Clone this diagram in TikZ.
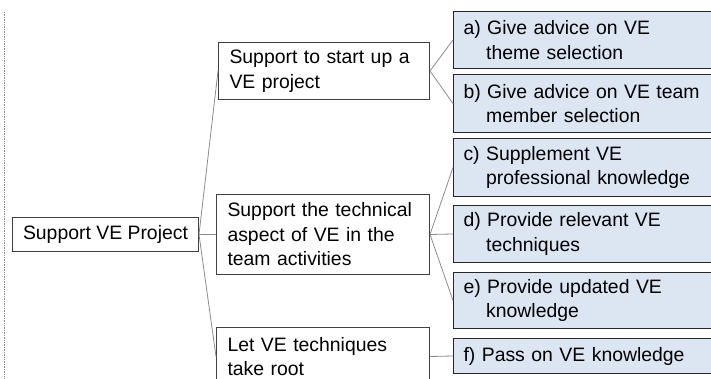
\documentclass[tikz,border=0pt]{standalone}
\usepackage{fontspec}
\setmainfont{Liberation Sans}
\definecolor{boxblue}{HTML}{DCE6F2}
\definecolor{edgegray}{HTML}{404040}
\definecolor{linkgray}{HTML}{8C8C8C}
\newcommand{\hangpad}{\hspace*{1.17em}}
\begin{document}
\begin{tikzpicture}[x=1pt,y=-1pt,
  every node/.style={font=\fontsize{19.4pt}{24.5pt}\selectfont},
  topic/.style={draw=edgegray, line width=1pt, fill=white, anchor=north west,
    align=left, inner xsep=11pt, inner ysep=2pt},
  task/.style={draw=black!85, line width=1pt, fill=boxblue, anchor=north west,
    align=left, inner xsep=10pt, inner ysep=2pt, text width=260pt},
  link/.style={draw=linkgray, line width=0.8pt}]
\useasboundingbox (0,0) rectangle (711,379);
\clip (0,0) rectangle (711,379);

% margin guide on the left
\draw[linkgray, densely dotted, line width=0.7pt] (4,12) -- (4,379);

% root and second level
\node[topic, inner xsep=0pt, minimum width=186pt, minimum height=34pt] (root) at (12,217) {Support VE Project};
\node[topic, text width=189pt, minimum height=57pt] (s1) at (218,42) {Support to start up a\\VE project};
\node[topic, text width=191pt, minimum height=80pt] (s2) at (216,194) {Support the technical\\aspect of VE in the\\team activities};
\node[topic, text width=191pt, minimum height=58pt] (s3) at (216,327) {Let VE techniques\\take root};

% third level
\node[task, minimum height=57pt] (a) at (453,11) {a) Give advice on VE\\\hangpad theme selection};
\node[task, minimum height=58pt] (b) at (453,74) {b) Give advice on VE team\\\hangpad member selection};
\node[task, minimum height=58pt] (c) at (453,138) {c) Supplement VE\\\hangpad professional knowledge};
\node[task, minimum height=57pt] (d) at (453,205) {d) Provide relevant VE\\\hangpad techniques};
\node[task, minimum height=56pt] (e) at (453,272) {e) Provide updated VE\\\hangpad knowledge};
\node[task, minimum height=35pt] (f) at (453,338) {f) Pass on VE knowledge};

% connectors
\draw[link] (root.east) -- (s1.west);
\draw[link] (root.east) -- (s2.west);
\draw[link] (root.east) -- (s3.west);
\draw[link] (s1.east) -- (a.west);
\draw[link] (s1.east) -- (b.west);
\draw[link] (s2.east) -- (c.west);
\draw[link] (s2.east) -- (d.west);
\draw[link] (s2.east) -- (e.west);
\draw[link] (s3.east) -- (f.west);
\end{tikzpicture}
\end{document}
